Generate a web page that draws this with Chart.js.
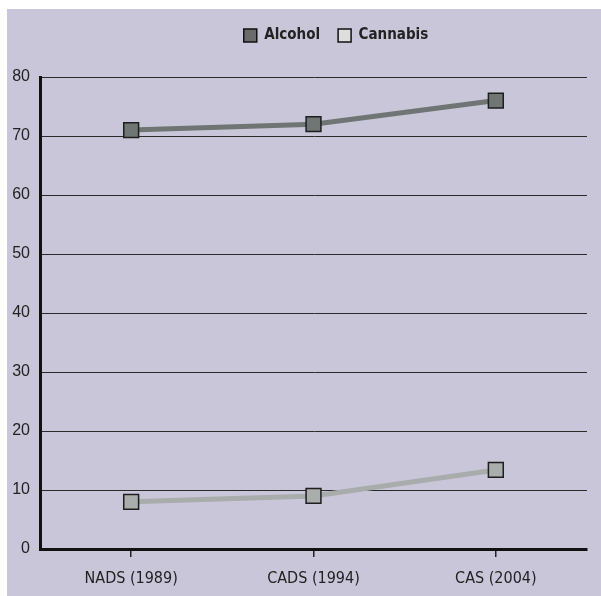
<!DOCTYPE html>
<html>
<head>
<meta charset="utf-8">
<script src="https://cdn.jsdelivr.net/npm/chart.js@4"></script>
<style>
  html, body { margin: 0; padding: 0; background: #ffffff; }
  #panel {
    position: absolute; left: 7px; top: 9px; width: 594px; height: 587px;
    background: #c9c6da;
  }
  canvas { display: block; }
</style>
</head>
<body>
<div id="panel"><canvas id="chart" width="594" height="587"></canvas></div>
<script>
// Survey categories and the share of respondents reporting use (%)
const surveys = ["NADS (1989)", "CADS (1994)", "CAS (2004)"];
const alcohol = [71, 72, 76];
const cannabis = [8, 9, 13.4];
const yTicks = [0, 10, 20, 30, 40, 50, 60, 70, 80];

const narrow = "'Liberation Sans Narrow', 'DejaVu Sans Condensed', Arial, sans-serif";

// Nudge the legend right and up from its default slot above the plot
const legendShift = {
  id: 'legendShift',
  afterLayout(chart) {
    const lg = chart.legend;
    if (lg) {
      lg.left += 39; lg.right += 39;
      lg.top -= 24; lg.bottom -= 24;
      lg.adjustHitBoxes && lg.adjustHitBoxes();
    }
  }
};

new Chart(document.getElementById('chart'), {
  type: 'line',
  data: {
    labels: surveys,
    datasets: [
      {
        label: 'Alcohol',
        data: alcohol,
        borderColor: '#6f7572',
        backgroundColor: '#6f7572',
        borderWidth: 5,
        pointStyle: 'rect',
        pointRadius: 10.5,
        pointBackgroundColor: '#6f7673',
        pointBorderColor: '#1e1e1e',
        pointBorderWidth: 1.5,
        tension: 0
      },
      {
        label: 'Cannabis',
        data: cannabis,
        borderColor: '#a8acaa',
        backgroundColor: '#a8acaa',
        borderWidth: 5,
        pointStyle: 'rect',
        pointRadius: 10.5,
        pointBackgroundColor: '#a9adab',
        pointBorderColor: '#1e1e1e',
        pointBorderWidth: 1.5,
        tension: 0
      }
    ]
  },
  options: {
    responsive: false,
    animation: false,
    layout: { padding: { left: 0, right: 14, top: 25, bottom: 0 } },
    plugins: {
      tooltip: { enabled: false },
      legend: {
        position: 'top',
        labels: {
          boxWidth: 13,
          boxHeight: 13,
          padding: 18,
          color: '#222222',
          font: { family: narrow, size: 15, weight: 'bold' },
          generateLabels(chart) {
            const fills = ['#6b6b6b', '#dedede'];
            return chart.data.datasets.map((ds, i) => ({
              text: ds.label,
              fillStyle: fills[i],
              strokeStyle: '#111111',
              lineWidth: 1.5,
              datasetIndex: i,
              fontColor: '#222222'
            }));
          }
        }
      }
    },
    scales: {
      x: {
        offset: true,
        grid: {
          drawOnChartArea: false,
          drawTicks: true,
          tickLength: 8,
          color: '#222222',
          lineWidth: 1.5
        },
        border: { display: true, color: '#111111', width: 3 },
        ticks: {
          color: '#222222',
          padding: 12,
          font: { family: narrow, size: 16 }
        },
        afterFit(scale) { scale.height = 47; }
      },
      y: {
        min: 0,
        max: 80,
        afterBuildTicks(scale) { scale.ticks = yTicks.map(v => ({ value: v })); },
        grid: {
          drawTicks: false,
          color: '#2a2a2a',
          lineWidth: 1
        },
        border: { display: true, color: '#111111', width: 3 },
        ticks: {
          color: '#222222',
          padding: 10,
          font: { family: "'Liberation Sans', Arial, sans-serif", size: 16 }
        },
        afterFit(scale) { scale.width = 33; }
      }
    }
  },
  plugins: [legendShift]
});
</script>
</body>
</html>
